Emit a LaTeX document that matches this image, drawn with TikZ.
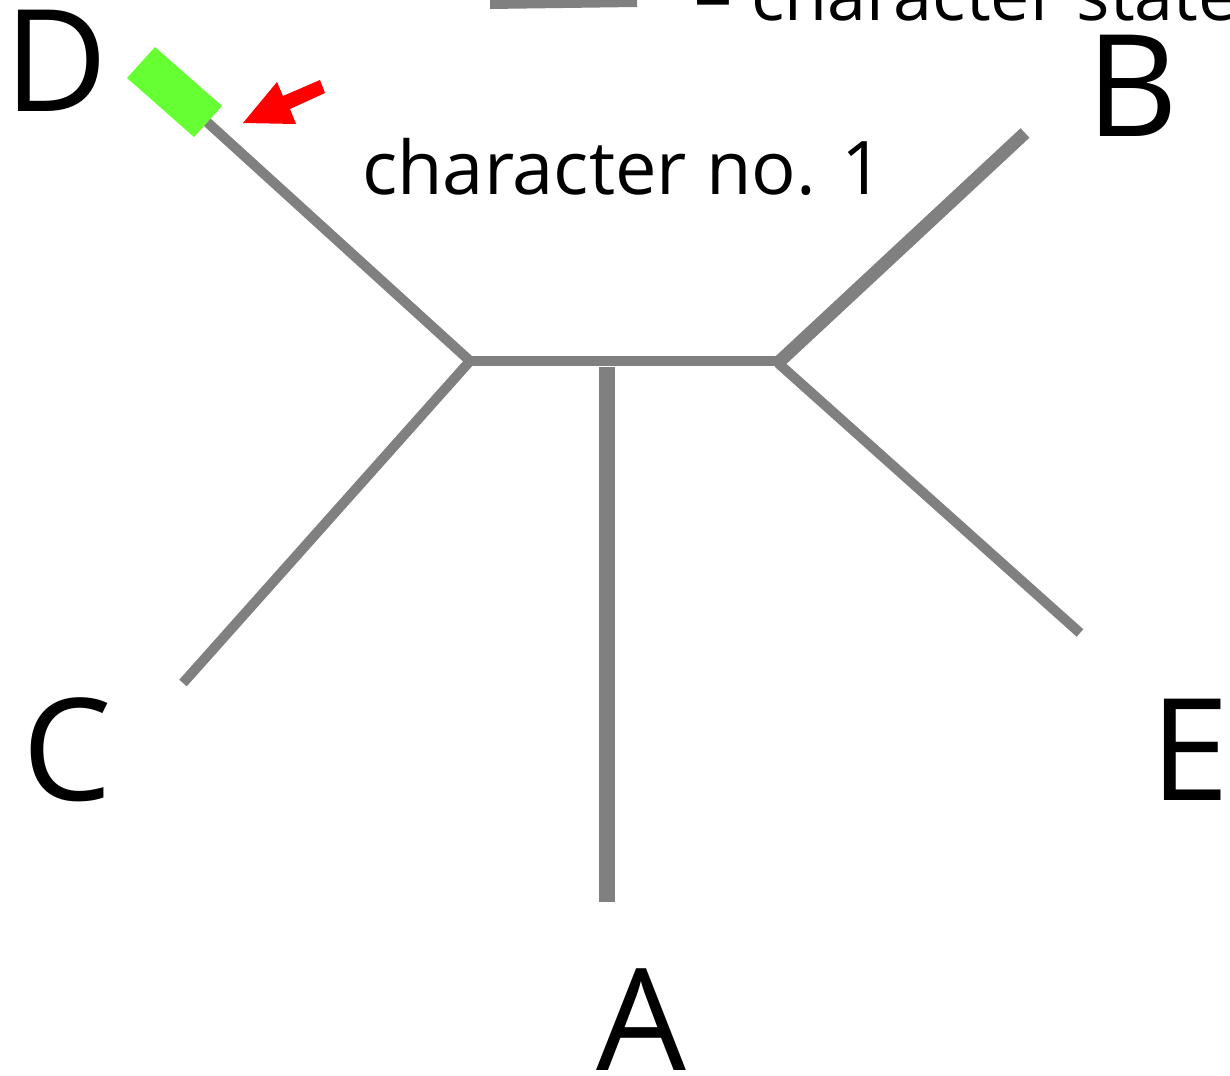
\documentclass[tikz,border=0pt]{standalone}
\usepackage{fontspec}
\setmainfont{Open Sans}
\definecolor{branchgray}{RGB}{128,128,128}
\definecolor{markgreen}{RGB}{102,255,51}
\definecolor{pointred}{RGB}{255,0,0}
\tikzset{
  branch/.style={draw=branchgray, line width=10pt, line cap=butt},
  taxon/.style={inner sep=0pt, anchor=base west, font=\fontsize{142}{142}\selectfont},
  caption/.style={inner sep=0pt, anchor=base west, font=\fontsize{74}{74}\selectfont},
}
\begin{document}
\begin{tikzpicture}[x=1pt,y=-1pt]
\useasboundingbox (0,0) rectangle (1230,1075);

% internal nodes of the unrooted tree
\coordinate (j1) at (470,361);
\coordinate (j2) at (780,361);
\coordinate (jA) at (607,367);
% branch tips
\coordinate (tD) at (174,92);
\coordinate (tC) at (183,683);
\coordinate (tB) at (1025,133);
\coordinate (tE) at (1080,633);
\coordinate (tA) at (607,902);

% branches
\draw[branch] (j1) -- (j2);
\draw[branch, line width=16pt] (jA) -- (tA);
\draw[branch] (j1) -- (tD);
\draw[branch] (j1) -- (tC);
\draw[branch, line width=13pt] (j2) -- (tB);
\draw[branch] (778,363) -- (tE);

% character state change on branch D
\fill[markgreen] (155,47) -- (222,106) -- (194,137) -- (127,78) -- cycle;

% pointer arrow
\fill[pointred] (243,123) -- (277,82) -- (283,96) -- (320,80) -- (325,93)
  -- (290,109) -- (296,124) -- cycle;

% legend
\fill[branchgray] (490,0) -- (637,0) -- (637,7) -- (490,9) -- cycle;
\node[caption, font=\fontsize{70}{70}\selectfont] (legend) at (693,21) {= character state};

% labels
\node[caption] (charlabel) at (362,195) {character no. 1};
\node[taxon] (labD) at (4,112) {D};
\node[taxon] (labB) at (1086,137) {B};
\node[taxon] (labC) at (22,800) {C};
\node[taxon] (labE) at (1150,800) {E};
\node[taxon] (labA) at (596,1070) {A};
\end{tikzpicture}
\end{document}
